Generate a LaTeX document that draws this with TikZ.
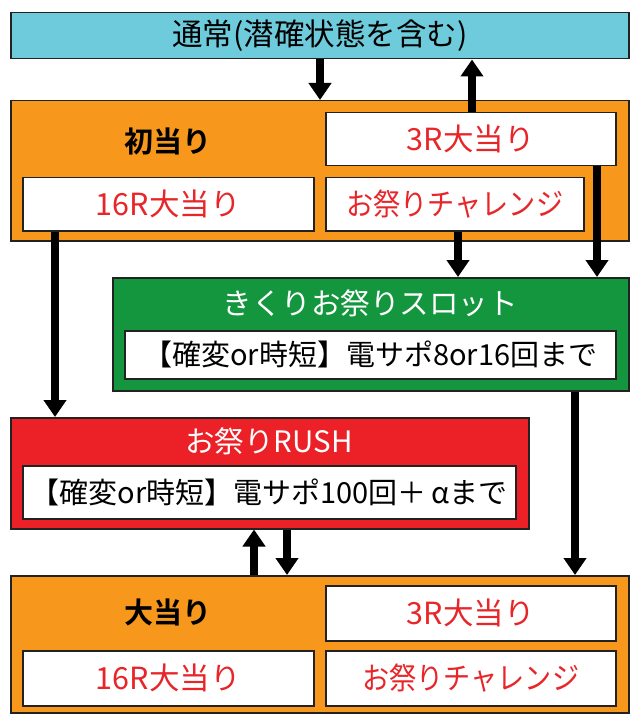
\documentclass[tikz,border=0pt]{standalone}
\usepackage{fontspec}
\setmainfont{Noto Sans CJK JP}
\newfontfamily\boldjp{Noto Sans CJK JP Bold}
\usetikzlibrary{arrows.meta,calc}
\definecolor{cyanbg}{HTML}{6DCBDC}
\definecolor{orangebg}{HTML}{F7981D}
\definecolor{greenbg}{HTML}{14963F}
\definecolor{redbg}{HTML}{EC2027}
\definecolor{redtxt}{HTML}{E8262A}
\definecolor{edge}{HTML}{222222}
\newcommand{\fs}[1]{\fontsize{#1}{#1}\selectfont}
\begin{document}
\begin{tikzpicture}[x=1pt,y=-1pt,
  box/.style={draw=edge,line width=1.5pt,anchor=north west,inner sep=0pt},
  wbox/.style={box,fill=white,text=redtxt,font=\fs{30.5}},
  chbox/.style={box,fill=white,text=redtxt,font=\fs{30.5}},
  inbox/.style={box,fill=white,text=black,font=\fs{29}},
  arr/.style={line width=8pt,-{Triangle[width=22pt,length=17pt]}},
  ttl/.style={font=\fs{29.5},inner sep=0pt},
  hd/.style={font=\boldjp\fs{29},inner sep=0pt}]
\useasboundingbox (0,0) rectangle (640,722);
% top
\node[box,fill=cyanbg,minimum width=618pt,minimum height=46pt,font=\fs{30.5}] (top) at (10,12) {通常(潜確状態を含む)};
% first orange
\node[box,fill=orangebg,minimum width=618pt,minimum height=140pt] (o1) at (10,100) {};
\node[hd] (h1) at (168,141) {初当り};
\node[wbox,minimum width=290pt,minimum height=53pt] (r3a) at (325,112) {3R大当り};
\node[wbox,minimum width=291pt,minimum height=53pt] (r16a) at (22,177) {16R大当り};
\node[chbox,minimum width=258pt,minimum height=53pt] (cha) at (325,177) {\scalebox{0.89}[1]{お祭りチャレンジ}};
% green
\node[box,fill=greenbg,minimum width=516pt,minimum height=113pt] (gr) at (112,277) {};
\node[ttl,text=white] (gt) at (370,303) {きくりお祭りスロット};
\node[inbox,minimum width=491pt,minimum height=48pt] (gi) at (124,330) {【確変or時短】電サポ8or16回まで};
% rush
\node[box,fill=redbg,minimum width=518pt,minimum height=111pt] (ru) at (10,417) {};
\node[ttl,text=white] (rt) at (269,441) {お祭りRUSH};
\node[inbox,minimum width=493pt,minimum height=53pt] (ri) at (22,465) {【確変or時短】電サポ100回＋\,αまで};
% bottom orange
\node[box,fill=orangebg,minimum width=618pt,minimum height=137pt] (o2) at (10,575) {};
\node[hd] (h2) at (168,612) {大当り};
\node[wbox,minimum width=290pt,minimum height=55pt] (r3b) at (325,585) {3R大当り};
\node[wbox,minimum width=291pt,minimum height=55pt] (r16b) at (22,650) {16R大当り};
\node[chbox,minimum width=290pt,minimum height=55pt] (chb) at (325,650) {\scalebox{0.89}[1]{お祭りチャレンジ}};
% arrow columns
\coordinate (x1) at (320,0);
\coordinate (x2) at (472,0);
\coordinate (x3) at (55,0);
\coordinate (x4) at (458,0);
\coordinate (x5) at (597,0);
\coordinate (x6) at (575,0);
\coordinate (x7) at (254,0);
\coordinate (x8) at (287,0);
\draw[arr] (top.south -| x1) -- (o1.north -| x1);
\draw[arr] (r3a.north -| x2) -- (top.south -| x2);
\draw[arr] (r16a.south -| x3) -- (ru.north -| x3);
\draw[arr] (cha.south -| x4) -- (gr.north -| x4);
\draw[arr] (r3a.south -| x5) -- (gr.north -| x5);
\draw[arr] (gr.south -| x6) -- (o2.north -| x6);
\draw[arr] (o2.north -| x7) -- (ru.south -| x7);
\draw[arr] (ru.south -| x8) -- (o2.north -| x8);
\end{tikzpicture}
\end{document}
